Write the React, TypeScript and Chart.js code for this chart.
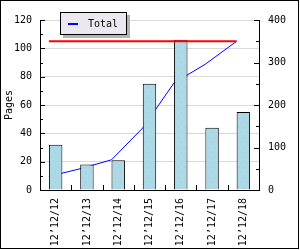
import React, { useEffect, useRef } from "react";
import { Chart, registerables } from "chart.js";

Chart.register(...registerables);

// ---- data ----
const categories = ["12’12/12", "12’12/13", "12’12/14", "12’12/15", "12’12/16", "12’12/17", "12’12/18"];
const pages = [32, 18, 21, 75, 106, 44, 55];
const cumulativePages = [32, 50, 71, 146, 252, 296, 350];
const totalLevel = [350, 350, 350, 350, 350, 350, 350];
const leftAxis = { min: 0, max: 120, step: 20, minor: 10 };
const rightAxis = { min: 0, max: 400, step: 100, minor: 50 };
const legendLabel = "Total";
const yTitle = "Pages";

const BAR_FRACTION = 0.43;
const FONT = "'DejaVu Sans Mono', monospace";

export default function App() {
  const ref = useRef<HTMLCanvasElement | null>(null);

  useEffect(() => {
    document.body.style.margin = "0";
    const canvas = ref.current;
    if (!canvas) return;

    // dotted fill pattern for bars
    const pc = document.createElement("canvas");
    pc.width = 6;
    pc.height = 10;
    const pctx = pc.getContext("2d")!;
    pctx.fillStyle = "#add8e6";
    pctx.fillRect(0, 0, 6, 10);
    pctx.fillStyle = "#cdb9c4";
    pctx.fillRect(1, 2, 1, 1);
    pctx.fillRect(4, 7, 1, 1);
    const ctx0 = canvas.getContext("2d")!;
    const pattern = ctx0.createPattern(pc, "repeat");

    // lines are drawn anchored at the bars' left edges (as in the original)
    const shiftLines = {
      id: "shiftLines",
      beforeDatasetDraw(chart: any, args: any) {
        if (args.meta.type !== "line") return;
        const bar = chart.getDatasetMeta(0).data[0];
        const half = bar ? bar.width / 2 : 0;
        chart.ctx.save();
        chart.ctx.translate(-half, 0);
      },
      afterDatasetDraw(chart: any, args: any) {
        if (args.meta.type !== "line") return;
        chart.ctx.restore();
      },
    };

    const decor = {
      id: "decor",
      beforeDraw(chart: any) {
        const c = chart.ctx;
        c.save();
        c.fillStyle = "#ffffff";
        c.fillRect(0, 0, chart.width, chart.height);
        c.restore();
      },
      afterDraw(chart: any) {
        const c = chart.ctx;
        const { left, right, bottom } = chart.chartArea;
        const y = chart.scales.y;
        const y1 = chart.scales.y1;
        c.save();
        c.strokeStyle = "#000";
        c.lineWidth = 1;
        c.beginPath();
        for (let v = leftAxis.min; v <= leftAxis.max; v += leftAxis.minor) {
          const py = Math.round(y.getPixelForValue(v)) + 0.5;
          const len = v % leftAxis.step === 0 ? 5 : 3;
          c.moveTo(left, py);
          c.lineTo(left + len, py);
        }
        for (let v = rightAxis.min; v <= rightAxis.max; v += rightAxis.minor) {
          const py = Math.round(y1.getPixelForValue(v)) + 0.5;
          const len = v % rightAxis.step === 0 ? 5 : 3;
          c.moveTo(right, py);
          c.lineTo(right - len, py);
        }
        const n = categories.length;
        for (let i = 1; i < n; i++) {
          const px = Math.round(left + (i * (right - left)) / n) + 0.5;
          c.moveTo(px, bottom);
          c.lineTo(px, bottom - 5);
        }
        c.stroke();

        // legend
        const lx = 60, ly = 12, lw = 66, lh = 22;
        c.fillStyle = "#b4b4b4";
        c.fillRect(lx + 3, ly + 3, lw + 1, lh + 1);
        c.fillStyle = "#ebe9ef";
        c.fillRect(lx, ly, lw, lh);
        c.strokeStyle = "#000";
        c.strokeRect(lx + 0.5, ly + 0.5, lw, lh);
        c.fillStyle = "#0000ff";
        c.fillRect(lx + 8, ly + 11, 10, 2);
        c.fillStyle = "#000";
        c.font = "10px " + FONT;
        c.textBaseline = "middle";
        c.textAlign = "left";
        c.fillText(legendLabel, lx + 28, ly + 12);

        // frame
        c.strokeStyle = "#000";
        c.strokeRect(0.5, 0.5, 298, 248);
        c.restore();
      },
    };

    const chart = new Chart(canvas, {
      type: "bar",
      data: {
        labels: categories,
        datasets: [
          {
            type: "bar",
            label: "Pages",
            data: pages,
            backgroundColor: pattern as any,
            borderColor: "#000000",
            borderWidth: 1,
            borderSkipped: "bottom",
            grouped: false,
            categoryPercentage: 1,
            barPercentage: BAR_FRACTION,
            yAxisID: "y",
            order: 2,
          } as any,
          {
            type: "line",
            label: legendLabel,
            data: cumulativePages,
            borderColor: "#0000ff",
            borderWidth: 1,
            pointRadius: 0,
            tension: 0,
            yAxisID: "y1",
            order: 3,
          } as any,
          {
            type: "line",
            label: "Level",
            data: totalLevel,
            borderColor: "#ff0000",
            borderWidth: 2,
            pointRadius: 0,
            tension: 0,
            yAxisID: "y1",
            order: 1,
          } as any,
        ],
      },
      options: {
        responsive: false,
        animation: false,
        events: [],
        layout: { padding: { top: 20, left: 0, right: 0, bottom: 0 } },
        plugins: { legend: { display: false }, tooltip: { enabled: false } },
        scales: {
          x: {
            type: "category",
            offset: true,
            grid: { display: true, drawOnChartArea: false, drawTicks: false },
            border: { display: true, color: "#000", width: 1 },
            ticks: {
              autoSkip: false,
              maxRotation: 90,
              minRotation: 90,
              padding: 8,
              color: "#000",
              font: { family: FONT, size: 10 },
            },
            afterFit: (s: any) => {
              s.height = 60;
            },
          },
          y: {
            position: "left",
            min: leftAxis.min,
            max: leftAxis.max,
            grid: { color: "#dadada", drawTicks: false },
            border: { display: true, color: "#000", width: 1 },
            ticks: {
              stepSize: leftAxis.step,
              padding: 8,
              color: "#000",
              font: { family: FONT, size: 10 },
            },
            title: {
              display: true,
              text: yTitle,
              color: "#000",
              font: { family: FONT, size: 10 },
              padding: { top: 3, bottom: 0 },
            },
            afterFit: (s: any) => {
              s.width = 40;
            },
          },
          y1: {
            position: "right",
            min: rightAxis.min,
            max: rightAxis.max,
            grid: { display: true, drawOnChartArea: false, drawTicks: false },
            border: { display: true, color: "#000", width: 1 },
            ticks: {
              stepSize: rightAxis.step,
              padding: 9,
              color: "#000",
              font: { family: FONT, size: 10 },
            },
            afterFit: (s: any) => {
              s.width = 41;
            },
          },
        } as any,
      },
      plugins: [decor, shiftLines],
    });

    return () => chart.destroy();
  }, []);

  return (
    <div style={{ position: "absolute", left: 0, top: 0, width: 300, height: 250 }}>
      <canvas ref={ref} width={300} height={250} style={{ display: "block" }} />
    </div>
  );
}
